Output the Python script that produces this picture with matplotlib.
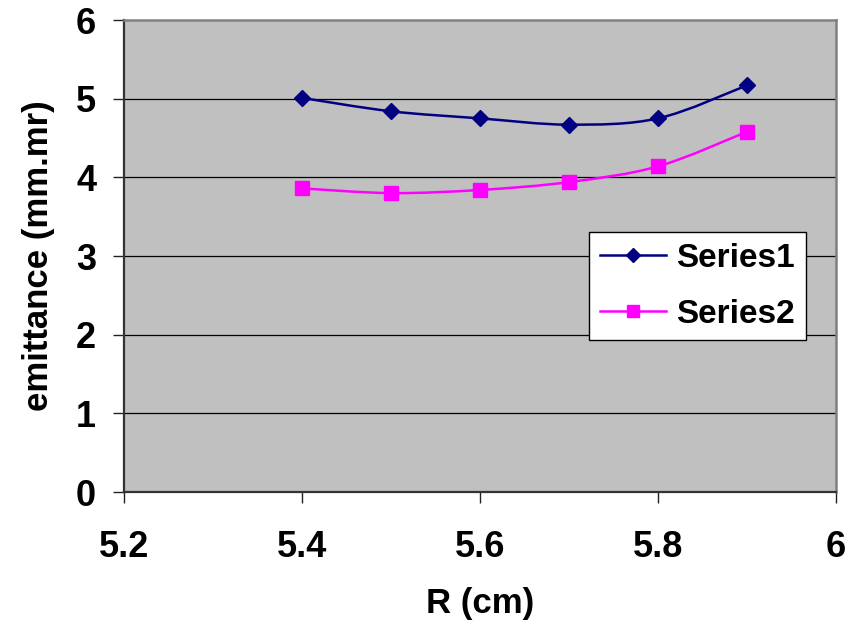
import numpy as np
import matplotlib
matplotlib.use('Agg')
import matplotlib.pyplot as plt
from matplotlib.path import Path
from matplotlib.patches import PathPatch
from matplotlib.lines import Line2D

plt.rcParams['font.family'] = ['Liberation Sans', 'DejaVu Sans']
plt.rcParams['font.weight'] = 'bold'

# data
r_cm = [5.4, 5.5, 5.6, 5.7, 5.8, 5.9]
series1 = [5.01, 4.84, 4.75, 4.67, 4.75, 5.17]
series2 = [3.86, 3.80, 3.84, 3.94, 4.14, 4.58]

xticks = [5.2, 5.4, 5.6, 5.8, 6.0]
xtick_labels = ['5.2', '5.4', '5.6', '5.8', '6']
yticks = [0, 1, 2, 3, 4, 5, 6]


def smooth_path(x, y):
    # Excel-like smoothed line: Catmull-Rom segments as cubic Bezier
    p = np.column_stack([x, y]).astype(float)
    n = len(p)
    verts = [p[0]]
    codes = [Path.MOVETO]
    for i in range(n - 1):
        p0 = p[i - 1] if i > 0 else p[i]
        p1 = p[i]
        p2 = p[i + 1]
        p3 = p[i + 2] if i + 2 < n else p[i + 1]
        c1 = p1 + (p2 - p0) / 6.0
        c2 = p2 - (p3 - p1) / 6.0
        verts += [c1, c2, p2]
        codes += [Path.CURVE4] * 3
    return Path(verts, codes)


fig = plt.figure(figsize=(8.66, 6.32), dpi=100)
ax = fig.add_axes([0.1432, 0.2215, 0.8222, 0.7468])
ax.set_facecolor('#C0C0C0')

for yv in yticks[1:-1]:
    ax.axhline(yv, color='black', lw=0.9, zorder=1)

styles = [
    (series1, '#000080', 'D', 7.8, 'Series1'),
    (series2, '#FF00FF', 's', 9.5, 'Series2'),
]
handles = []
for vals, col, mk, ms, name in styles:
    ax.add_patch(PathPatch(smooth_path(r_cm, vals), fill=False,
                           edgecolor=col, lw=1.8, zorder=3))
    ax.plot(r_cm, vals, ls='none', marker=mk, ms=ms, color=col, zorder=4)
    handles.append(Line2D([], [], color=col, lw=1.8, marker=mk, ms=ms * 0.95,
                          label=name))

ax.set_xlim(5.2, 6.0)
ax.set_ylim(0, 6)
ax.set_xticks(xticks)
ax.set_xticklabels(xtick_labels)
ax.set_yticks(yticks)

ax.tick_params(axis='both', direction='out', length=8, width=1,
               color='#222222', labelsize=26)
ax.tick_params(axis='y', pad=12)
ax.tick_params(axis='x', pad=19)

for side in ['left', 'bottom']:
    ax.spines[side].set_color('#333333')
    ax.spines[side].set_linewidth(1.6)
for side in ['top', 'right']:
    ax.spines[side].set_color('#808080')
    ax.spines[side].set_linewidth(1.8)

ax.set_xlabel('R (cm)', fontsize=25, fontweight='bold', labelpad=16)
ax.set_ylabel('emittance (mm.mr)', fontsize=25, fontweight='bold', labelpad=15)

leg = ax.legend(handles=handles, loc='upper left',
                bbox_to_anchor=(0.653, 0.551), borderaxespad=0,
                fontsize=24, frameon=True, fancybox=False, framealpha=1,
                edgecolor='black', handlelength=2.0, handletextpad=0.3,
                borderpad=0.32, labelspacing=0.75)
leg.get_frame().set_linewidth(1.0)

fig.savefig('out.png', dpi=100)
